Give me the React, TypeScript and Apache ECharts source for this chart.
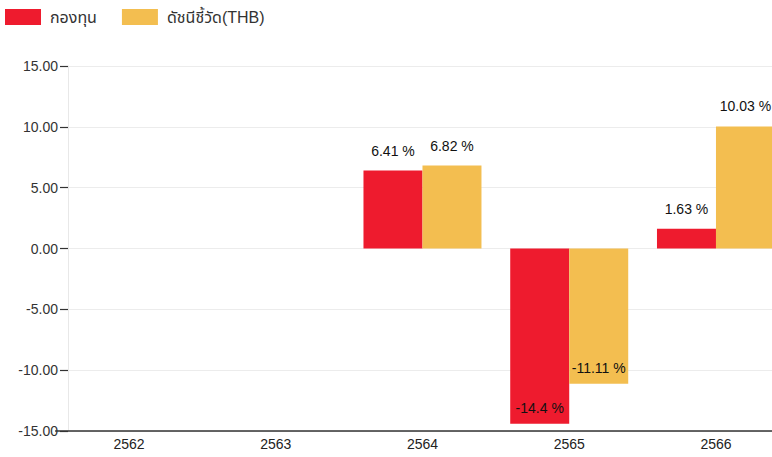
import React, { useEffect, useRef } from "react";
import * as echarts from "echarts";

const categories = ["2562", "2563", "2564", "2565", "2566"];
const fundValues: (number | null)[] = [null, null, 6.41, -14.4, 1.63];
const benchValues: (number | null)[] = [null, null, 6.82, -11.11, 10.03];
const seriesNames = ["กองทุน", "ดัชนีชี้วัด(THB)"];
const yMin = -15;
const yMax = 15;
const yInterval = 5;

const FONT = 'Arial, "Liberation Sans", "Noto Sans Thai", "DejaVu Sans", sans-serif';

function mkData(vals: (number | null)[]) {
  return vals.map((v) => {
    if (v === null) return { value: null };
    const neg = v < 0;
    return {
      value: v,
      label: {
        show: true,
        position: neg ? "insideBottom" : "top",
        distance: neg ? 9 : 13,
      },
    };
  });
}

export default function App() {
  const ref = useRef<HTMLDivElement>(null);
  useEffect(() => {
    document.body.style.margin = "0";
    if (!ref.current) return;
    const chart = echarts.init(ref.current, null, { renderer: "svg" });
    const labelCommon = {
      color: "#111",
      fontSize: 14,
      fontFamily: FONT,
      formatter: (p: any) => `${p.value} %`,
    };
    chart.setOption({
      animation: false,
      legend: {
        left: 0,
        top: 4,
        itemWidth: 36,
        itemHeight: 16,
        itemGap: 25,
        icon: "rect",
        textStyle: { fontSize: 16, color: "#333", fontFamily: FONT, padding: [2, 0, 0, 4] },
        data: seriesNames,
      },
      grid: [
        { left: 68, top: 66, height: 365, right: 0, outerBoundsMode: "none" },
        { left: 55.6, top: 66, height: 365, width: 733.75, outerBoundsMode: "none" },
      ],
      xAxis: [
        { type: "category", gridIndex: 0, data: categories, show: false },
        {
          type: "category",
          gridIndex: 1,
          data: categories,
          axisLine: { onZero: false, lineStyle: { color: "#333", width: 1.5 } },
          axisTick: { alignWithLabel: true, length: 5, lineStyle: { color: "#333" } },
          axisLabel: { fontSize: 14, color: "#222", margin: 6, fontFamily: FONT },
        },
      ],
      yAxis: [
        {
          type: "value",
          gridIndex: 0,
          min: yMin,
          max: yMax,
          interval: yInterval,
          axisLine: { show: true, lineStyle: { color: "#e8e8e8" } },
          axisTick: { show: true, length: 8, lineStyle: { color: "#333", width: 1.2 } },
          axisLabel: {
            fontSize: 14,
            color: "#333",
            margin: 10,
            fontFamily: FONT,
            formatter: (v: number) => v.toFixed(2),
          },
          splitLine: { show: true, lineStyle: { color: "#ececec" } },
        },
        { type: "value", gridIndex: 1, min: yMin, max: yMax, interval: yInterval, show: false, splitLine: { show: false } },
      ],
      series: [
        {
          name: seriesNames[0],
          type: "bar",
          xAxisIndex: 1,
          yAxisIndex: 1,
          barWidth: 59,
          barGap: "0%",
          itemStyle: { color: "#EE1B2E" },
          label: labelCommon,
          data: mkData(fundValues),
        },
        {
          name: seriesNames[1],
          type: "bar",
          xAxisIndex: 1,
          yAxisIndex: 1,
          barWidth: 59,
          barGap: "0%",
          itemStyle: { color: "#F3BE50" },
          label: labelCommon,
          data: mkData(benchValues),
        },
      ],
    });
    return () => chart.dispose();
  }, []);
  return <div ref={ref} style={{ width: 772, height: 457 }} />;
}
